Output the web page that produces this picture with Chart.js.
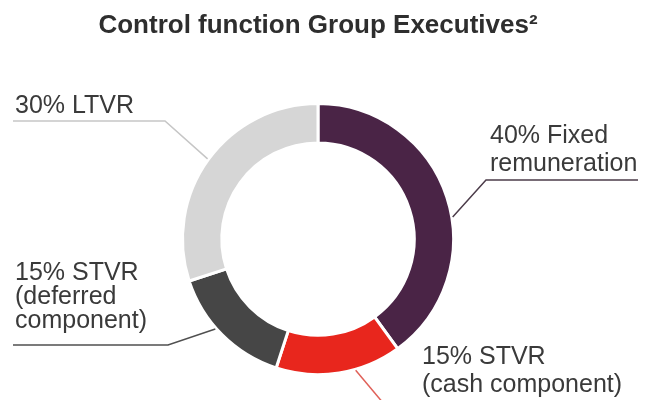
<!DOCTYPE html>
<html>
<head>
<meta charset="utf-8">
<script src="https://cdn.jsdelivr.net/npm/chart.js"></script>
<style>
    html, body { margin: 0; padding: 0; background: #fff; }
    #wrap { width: 659px; height: 400px; }
</style>
</head>
<body>
<div id="wrap"><canvas id="chart"></canvas></div>
<script>
const categories = ['Fixed remuneration', 'STVR (cash component)', 'STVR (deferred component)', 'LTVR'];
const shares = [40, 15, 15, 30];
// label text under the percentage, one entry per line
const labelLines = [
    ['Fixed', 'remuneration'],
    ['STVR', '(cash component)'],
    ['STVR', '(deferred', 'component)'],
    ['LTVR']
];
const sliceColours = ['#4a2446', '#e8261d', '#464646', '#d6d6d6'];
const leaderColours = ['#4c3c4a', '#e06058', '#505050', '#c6c6c6'];

// where each callout sits: point along the slice, elbow, line end, text start
const callouts = [
    { at: 0.56, elbow: [486, 180], end: [638, 180], text: [490, 143], lineHeight: 28 },
    { at: 0.37, elbow: [384, 404], end: null, text: [422, 364], lineHeight: 28 },
    { at: 0.57, elbow: [168, 345], end: [13, 345], text: [15, 280], lineHeight: 24 },
    { at: 0.5, elbow: [165, 121], end: [13, 121], text: [15, 113], lineHeight: 24 }
];

const calloutPlugin = {
    id: 'callouts',
    afterDatasetsDraw(chart) {
        const ctx = chart.ctx;
        const arcs = chart.getDatasetMeta(0).data;
        ctx.save();
        arcs.forEach((arc, i) => {
            const c = callouts[i];
            const p = arc.getProps(['x', 'y', 'startAngle', 'endAngle', 'outerRadius'], true);
            const a = p.startAngle + c.at * (p.endAngle - p.startAngle);
            const ax = p.x + Math.cos(a) * (p.outerRadius + 1);
            const ay = p.y + Math.sin(a) * (p.outerRadius + 1);

            ctx.beginPath();
            ctx.moveTo(ax, ay);
            ctx.lineTo(c.elbow[0], c.elbow[1]);
            if (c.end) ctx.lineTo(c.end[0], c.end[1]);
            ctx.strokeStyle = leaderColours[i];
            ctx.lineWidth = 1.5;
            ctx.stroke();

            ctx.fillStyle = '#3a3a3a';
            ctx.font = '25px "Liberation Sans", Arial, sans-serif';
            ctx.textBaseline = 'alphabetic';
            ctx.textAlign = 'left';
            const lines = labelLines[i].slice();
            lines[0] = `${shares[i]}% ${lines[0]}`;
            lines.forEach((line, k) => {
                ctx.fillText(line, c.text[0], c.text[1] + k * c.lineHeight);
            });
        });
        ctx.restore();
    }
};

new Chart(document.getElementById('chart'), {
    type: 'doughnut',
    data: {
        labels: categories,
        datasets: [
            {
                data: shares,
                backgroundColor: sliceColours,
                borderColor: '#ffffff',
                borderWidth: 3,
                radius: 135.5,
                cutout: '71%'
            }
        ]
    },
    options: {
        responsive: true,
        maintainAspectRatio: false,
        animation: false,
        layout: {
            padding: { left: 0, right: 23, top: 0, bottom: 23 }
        },
        plugins: {
            legend: { display: false },
            tooltip: { enabled: false },
            title: {
                display: true,
                text: 'Control function Group Executives²',
                color: '#2e2e2e',
                font: { family: '"Liberation Sans", Arial, sans-serif', size: 26, weight: 'bold' },
                padding: { top: 10, bottom: 60 }
            }
        }
    },
    plugins: [calloutPlugin]
});
</script>
</body>
</html>
